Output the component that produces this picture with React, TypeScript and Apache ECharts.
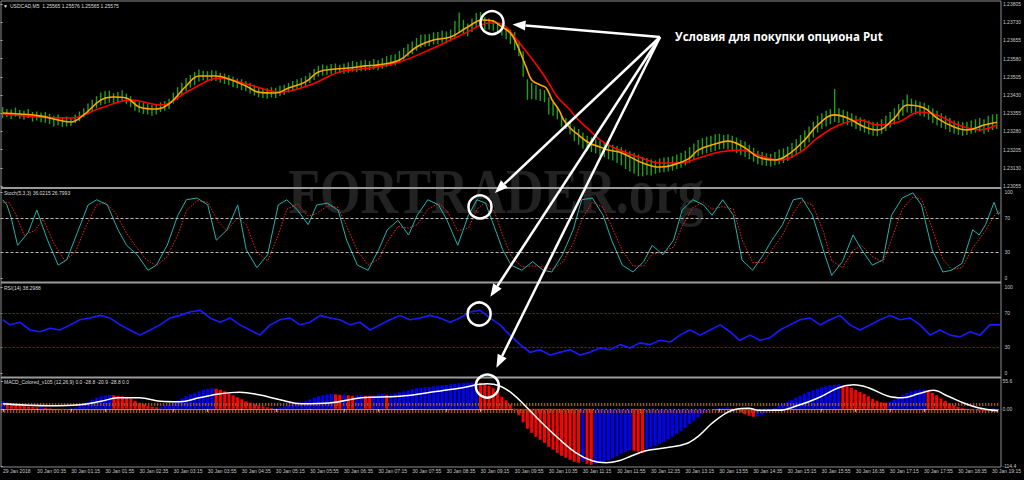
import React, { useEffect, useRef } from "react";
import * as echarts from "echarts";

// ---------- data ----------
const PRICE_BASE = 1.23; // bar values below are in points (1e-5) above this base
const PRICE_MIN = 1.23055;
const PRICE_MAX = 1.23805;
const PRICE_TICKS = [1.23055, 1.2313, 1.23205, 1.2328, 1.23355, 1.2343, 1.23505, 1.2358, 1.23655, 1.2373, 1.23805];
const OSC_TICKS = [0, 30, 70, 100];
const MACD_MIN = -114.4;
const MACD_MAX = 55.6;
const MACD_TICKS = [-114.4, 0, 55.6];
const MACD_LEVELS = [8.5, -5];
const BAR_COUNT = 234;
const TIME_LABELS = [
  "29 Jan 2018", "30 Jan 00:35", "30 Jan 01:15", "30 Jan 01:55", "30 Jan 02:35", "30 Jan 03:15",
  "30 Jan 03:55", "30 Jan 04:35", "30 Jan 05:15", "30 Jan 05:55", "30 Jan 06:35", "30 Jan 07:15",
  "30 Jan 07:55", "30 Jan 08:35", "30 Jan 09:15", "30 Jan 09:55", "30 Jan 10:35", "30 Jan 11:15",
  "30 Jan 11:55", "30 Jan 12:35", "30 Jan 13:15", "30 Jan 13:55", "30 Jan 14:35", "30 Jan 15:15",
  "30 Jan 15:55", "30 Jan 16:35", "30 Jan 17:15", "30 Jan 17:55", "30 Jan 18:35", "30 Jan 19:15",
];

const BAR_HIGH = [
  380, 372, 370, 378, 368, 365, 372, 360, 362, 358,
  360, 352, 345, 350, 338, 342, 335, 350, 362, 375,
  395, 410, 425, 440, 445, 448, 438, 442, 450, 436,
  425, 410, 400, 398, 395, 390, 392, 400, 405, 415,
  440, 462, 480, 500, 512, 525, 535, 530, 528, 532,
  530, 522, 518, 512, 505, 498, 495, 488, 480, 472,
  462, 460, 458, 462, 460, 468, 472, 480, 488, 495,
  500, 508, 522, 538, 550, 556, 552, 558, 560, 555,
  560, 565, 570, 566, 572, 575, 570, 578, 574, 582,
  590, 595, 598, 612, 625, 640, 650, 665, 678, 680,
  682, 688, 690, 696, 692, 700, 735, 770, 740, 725,
  745, 768, 772, 750, 745, 740, 728, 720, 705, 700,
  690, 650, 610, 495, 480, 470, 455, 450, 420, 400,
  380, 345, 335, 320, 300, 290, 275, 262, 255, 248,
  240, 235, 232, 225, 220, 215, 205, 198, 192, 185,
  175, 170, 165, 160, 168, 172, 175, 178, 185, 192,
  200, 215, 230, 245, 252, 258, 262, 268, 270, 265,
  268, 262, 255, 245, 238, 225, 212, 200, 195, 190,
  188, 195, 205, 210, 218, 232, 248, 265, 285, 300,
  320, 345, 355, 365, 372, 455, 375, 368, 362, 355,
  345, 338, 330, 325, 320, 318, 330, 345, 360, 375,
  392, 410, 432, 415, 408, 402, 398, 388, 375, 365,
  355, 345, 335, 325, 322, 318, 320, 325, 330, 335,
  330, 345, 350, 352,
];
const BAR_LOW = [
  335, 338, 330, 340, 332, 328, 335, 320, 325, 318,
  315, 310, 300, 305, 298, 300, 302, 315, 322, 338,
  350, 362, 375, 388, 392, 398, 395, 400, 405, 392,
  380, 365, 358, 352, 350, 345, 350, 360, 365, 372,
  395, 410, 430, 445, 460, 470, 485, 490, 485, 488,
  488, 480, 475, 470, 462, 458, 450, 445, 436, 428,
  420, 418, 415, 420, 418, 425, 430, 440, 445, 452,
  458, 465, 478, 492, 505, 510, 512, 515, 518, 520,
  518, 522, 526, 524, 528, 530, 532, 535, 532, 538,
  545, 550, 552, 565, 575, 588, 598, 612, 625, 630,
  632, 638, 640, 645, 642, 650, 665, 690, 680, 672,
  690, 705, 715, 700, 700, 695, 685, 675, 660, 640,
  615, 590, 505, 410, 412, 410, 405, 400, 350, 345,
  330, 300, 290, 268, 240, 225, 210, 200, 195, 190,
  180, 175, 165, 160, 150, 140, 125, 115, 105, 95,
  95, 100, 98, 105, 110, 112, 115, 118, 125, 130,
  140, 150, 165, 178, 185, 190, 195, 200, 205, 208,
  205, 198, 190, 182, 175, 165, 155, 145, 140, 138,
  135, 140, 145, 150, 158, 170, 185, 200, 215, 235,
  255, 275, 290, 300, 310, 318, 315, 310, 305, 300,
  290, 282, 275, 268, 262, 260, 270, 282, 295, 308,
  328, 345, 358, 355, 350, 345, 340, 328, 315, 305,
  295, 288, 278, 270, 266, 262, 265, 270, 275, 280,
  270, 278, 285, 290,
];

// [bar index, points above base]
const MA_FAST = [
  [0, 356], [4, 352], [9, 343], [13, 327], [16, 319], [19, 348], [23, 409], [26, 422], [29, 418],
  [32, 381], [36, 372], [39, 393], [43, 467], [46, 508], [50, 508], [53, 496], [57, 467], [60, 442],
  [64, 438], [67, 459], [71, 484], [74, 525], [78, 537], [81, 541], [85, 550], [88, 554], [93, 574],
  [97, 628], [101, 657], [105, 669], [109, 710], [112.4, 739], [115, 735], [116.4, 718], [119, 685],
  [120.4, 644], [122.7, 545], [124, 492], [126, 471], [127.4, 459], [128.8, 409], [130.4, 368],
  [131.5, 327], [133, 294], [135, 265], [137.5, 232], [140, 216], [142, 203], [144.5, 195], [147, 175],
  [150, 150], [154, 133], [157, 141], [161, 170], [163, 203], [167, 228], [170, 240], [174, 212],
  [177, 175], [181, 162], [184, 183], [188, 245], [191, 306], [195, 348], [198, 335], [202, 298],
  [205, 286], [209, 335], [212, 389], [216, 376], [219, 335], [223, 298], [226, 286], [230, 306],
  [233, 318],
];
const MA_SLOW = [
  [0, 352], [9, 339], [16, 335], [23, 376], [30, 409], [37, 389], [44, 451], [51, 500], [58, 471],
  [65, 442], [72, 471], [79, 525], [86, 541], [93, 566], [101, 624], [105, 657], [109, 690], [112, 718],
  [114, 727], [116, 727], [118, 710], [120, 669], [123, 603], [126, 533], [128, 479], [130, 422],
  [133, 368], [134.5, 335], [137.5, 286], [140, 245], [144.5, 203], [149, 175], [154, 150], [159, 150],
  [163, 170], [168, 195], [173, 203], [177, 183], [182, 162], [187, 195], [191, 253], [196, 306],
  [201, 327], [205, 306], [210, 319], [215, 360], [219, 348], [224, 306], [229, 286], [233, 306],
];

const STOCH_K = [
  [0, 91], [1, 85], [2, 70], [3.5, 38], [6, 53], [8, 79], [10.5, 44], [13, 15], [15, 21], [17.5, 53],
  [20, 85], [22, 91], [24.5, 85], [27, 56], [29, 38], [31.5, 27], [34, 9], [36, 15], [38.5, 38], [41, 73],
  [43, 91], [45.5, 93], [48, 85], [50, 44], [52.5, 56], [55, 85], [57, 33], [59.5, 12], [62, 27], [64.5, 85],
  [66.5, 91], [69, 79], [71.5, 62], [73.5, 85], [76, 87], [78.5, 79], [80.5, 44], [83, 15], [85.5, 9], [88, 33],
  [90, 56], [92.5, 67], [95, 50], [97, 73], [99.5, 91], [102, 85], [104, 67], [106.5, 38], [109, 73], [111, 91],
  [113, 87], [114.5, 67], [117, 33], [119, 15], [121.5, 9], [124, 19], [126.5, 9], [128.5, 7], [131, 27],
  [133.5, 56], [135.5, 91], [138, 93], [140.5, 73], [142.5, 44], [145, 15], [147.5, 7], [150, 19], [152, 38],
  [154.5, 27], [157, 44], [159, 79], [161.5, 91], [164, 85], [166, 73], [168.5, 91], [171, 73], [173, 21],
  [175.5, 9], [178, 27], [180, 44], [182.5, 62], [185, 91], [187, 93], [189.5, 73], [192, 33], [194, 3],
  [196.5, 19], [199, 50], [201, 33], [203.5, 15], [206, 21], [208, 73], [210.5, 93], [213, 99], [215, 85],
  [217.5, 33], [220, 7], [222, 9], [224.5, 17], [227, 56], [228.5, 50], [230, 62], [232, 88], [233, 74],
  [233.5, 77],
];
const STOCH_D = [
  [0, 88], [1.5, 88], [3, 75], [5, 50], [7.5, 55], [9.5, 68], [12, 40], [14.5, 20], [17, 30], [19.5, 60],
  [22, 85], [24, 88], [26.5, 75], [29, 52], [31, 38], [33.5, 22], [36, 14], [38.5, 25], [41, 50], [43, 78],
  [45.5, 90], [48, 88], [50.5, 65], [52.5, 55], [55, 70], [57, 62], [59.5, 30], [62, 20], [64.5, 50],
  [66.5, 80], [69, 86], [71.5, 72], [73.5, 75], [76, 84], [78.5, 82], [80.5, 60], [83, 32], [85.5, 15],
  [88, 22], [90, 42], [92.5, 60], [95, 58], [97, 62], [99.5, 80], [102, 87], [104, 78], [106.5, 55],
  [109, 58], [111, 80], [113, 88], [115, 78], [117, 50], [119, 25], [121.5, 13], [124, 14], [126.5, 13],
  [128.5, 10], [131, 18], [133.5, 40], [135.5, 68], [138, 88], [140.5, 82], [142.5, 60], [145, 32],
  [147.5, 14], [150, 14], [152, 28], [154.5, 30], [157, 36], [159, 60], [161.5, 82], [164, 88], [166, 80],
  [168.5, 83], [171, 80], [173, 45], [175.5, 18], [178, 18], [180, 33], [182.5, 50], [185, 75], [187, 90],
  [189.5, 85], [192, 55], [194, 20], [196.5, 12], [199, 32], [201, 38], [203.5, 25], [206, 18], [208, 45],
  [210.5, 80], [213, 94], [215, 92], [217.5, 58], [220, 22], [222, 10], [224.5, 12], [227, 35],
  [228.5, 45], [230, 55], [232, 72], [233.5, 80],
];

const RSI = [
  [0, 62], [1.7, 56], [4.1, 59], [6.4, 50], [8.7, 48], [11.1, 52], [13.4, 50], [15.8, 56], [18.1, 62],
  [20.4, 64], [22.8, 67], [25.1, 64], [27.5, 56], [29.8, 50], [32.1, 44], [34.5, 50], [36.8, 56], [39.2, 64],
  [41.5, 67], [43.8, 71], [46.2, 73], [48.5, 64], [50.9, 59], [53.2, 64], [55.5, 56], [57.9, 50], [60.2, 44],
  [62.6, 56], [64.9, 62], [67.2, 64], [69.6, 56], [71.9, 59], [74.3, 67], [76.6, 64], [78.9, 62], [81.3, 56],
  [83.6, 59], [86, 50], [88.3, 56], [90.6, 62], [93, 67], [95.3, 62], [97.7, 64], [100, 67], [102.3, 64],
  [104.7, 59], [107, 64], [109.4, 71], [111.7, 73], [114, 64], [116.4, 56], [118.7, 44], [121.1, 33],
  [123.4, 24], [125.7, 27], [128.1, 21], [130.4, 24], [132.8, 27], [135.1, 21], [137.4, 24], [139.8, 29],
  [142.1, 27], [144.5, 33], [146.8, 29], [149.1, 35], [151.5, 33], [153.8, 38], [156.2, 36], [158.5, 44],
  [160.8, 50], [163.2, 44], [165.5, 50], [167.9, 56], [170.2, 48], [172.5, 38], [174.9, 44], [177.2, 38],
  [179.6, 41], [181.9, 50], [184.2, 56], [186.6, 62], [188.9, 64], [191.3, 56], [193.6, 62], [195.9, 67],
  [198.3, 56], [200.6, 50], [203, 56], [205.3, 62], [207.6, 67], [210, 62], [212.3, 64], [214.7, 56],
  [217, 44], [219.3, 50], [221.7, 44], [224, 42], [226.4, 48], [228.7, 44], [231, 56], [233.4, 56],
];

const MACD_HIST = [
  15, 12, 10, 8, 7, 6, 5, 4, 3, 3,
  2, 1, 0, -1, -2, -1, 1, 3, 6, 10,
  14, 18, 22, 25, 27, 28, 27, 26, 25, 23,
  20, 16, 12, 9, 6, 4, 3, 4, 6, 9,
  13, 17, 21, 25, 29, 32, 35, 38, 40, 41,
  40, 38, 35, 31, 27, 23, 19, 15, 12, 9,
  7, 5, 3, 2, 2, 3, 5, 7, 9, 11,
  13, 16, 19, 22, 25, 27, 29, 30, 29, 28,
  29, 27, 26, 27, 28, 26, 25, 27, 29, 30,
  28, 29, 31, 33, 35, 37, 39, 41, 42, 43,
  44, 45, 46, 47, 48, 49, 50, 51, 52, 52.5,
  53, 53.5, 52, 50, 46, 41, 34, 24, 17, 8.5,
  -3, -13, -27, -40, -48, -56, -62, -68, -76, -82,
  -88, -94, -98, -102, -106, -108, -106, -110, -112, -111,
  -108, -106, -103, -99, -95, -90, -86, -82, -84, -86,
  -88, -80, -77, -74, -70, -66, -61, -56, -50, -44,
  -38, -31, -24, -17, -11, -6, -3, -1, 1, 2,
  3, 1, -3, -7, -11, -14, -16, -15, -12, -8,
  -3, 2, 6, 10, 14, 18, 22, 26, 30, 34,
  37, 40, 43, 45, 47, 48, 49, 47, 45, 42,
  38, 34, 30, 25, 20, 16, 13, 12, 14, 18,
  23, 28, 32, 35, 37, 38, 38.5, 36, 32, 27,
  21, 16, 11, 7, 4, 2, -1, -3, -2, -4,
  -5, -3, -2, -1,
];
const MACD_SIGNAL = [
  [0, 10], [11, 6], [18, 8], [23, 15], [27, 22], [32, 22], [37, 15], [41.5, 14], [46, 22], [51, 30],
  [55.5, 33], [60, 28], [65, 18], [70, 10], [77, 12], [84, 22], [93, 25], [102, 35], [107, 41],
  [113.6, 50], [116.4, 46], [119.4, 31], [122.7, 4], [126.5, -29], [130.4, -60], [134.4, -88],
  [138.2, -104], [141.4, -108], [144.5, -104], [147.5, -94], [150.8, -84], [155.5, -78], [160.2, -70],
  [163.2, -54], [166.3, -29], [169.5, -9], [171.9, -1], [174.9, 1], [177.2, -3], [182, -3], [186.6, 7],
  [191.3, 22], [196, 42], [199.5, 48], [203, 42], [207.7, 25], [211, 22], [214.7, 30], [218.2, 37],
  [221.7, 25], [225.2, 12], [228.7, 2], [233.4, -4],
];

// annotation anchors: [bar index, value] in each pane
const MARKS = [
  { grid: 0, bar: 114.7, value: 1.23728 },
  { grid: 1, bar: 111.7, value: 82.6 },
  { grid: 2, bar: 111.5, value: 68.6 },
  { grid: 3, bar: 113.6, value: 45.5 },
];
const NOTE_TEXT = "Условия для покупки опциона Put";

// ---------- helpers ----------
const AX = "#c8c8c8";
const FONT = "Liberation Sans";
const px = (p: number) => PRICE_BASE + p / 100000;

function makeAxisX(gridIndex: number, show: boolean) {
  const customValues = TIME_LABELS.map((_, k) => k * 8 + 0.5);
  return {
    type: "value",
    gridIndex,
    min: 0,
    max: BAR_COUNT,
    show,
    splitLine: { show: false },
    axisLine: { show, lineStyle: { color: "#8c8c8c", width: 1 } },
    axisTick: { show, customValues, length: 3, lineStyle: { color: AX } },
    axisLabel: {
      show,
      customValues,
      color: AX,
      fontSize: 5,
      fontFamily: FONT,
      align: "left",
      margin: 2,
      formatter: (v: number) => TIME_LABELS[Math.round((v - 0.5) / 8)] ?? "",
    },
  };
}

function makeAxisY(gridIndex: number, min: number, max: number, ticks: number[], fmt: (v: number) => string) {
  return {
    type: "value",
    gridIndex,
    position: "right",
    min,
    max,
    splitLine: { show: false },
    axisLine: { show: false },
    axisTick: { show: true, customValues: ticks, length: 2, lineStyle: { color: AX } },
    axisLabel: {
      customValues: ticks,
      color: AX,
      fontSize: 5,
      fontFamily: FONT,
      margin: 4,
      formatter: fmt,
    },
  };
}

function arrowShapes(ox: number, oy: number, cx: number, cy: number, r: number, gap: number) {
  const dx = ox - cx;
  const dy = oy - cy;
  const L = Math.hypot(dx, dy);
  const ux = dx / L;
  const uy = dy / L;
  const tx = cx + ux * (r + gap);
  const ty = cy + uy * (r + gap);
  const hl = 13;
  const hw = 5;
  const bx = tx + ux * hl;
  const by = ty + uy * hl;
  const nx = -uy;
  const ny = ux;
  return [
    { type: "line", z: 100, shape: { x1: ox, y1: oy, x2: bx, y2: by }, style: { stroke: "#ffffff", lineWidth: 2.5 } },
    {
      type: "polygon",
      z: 100,
      shape: { points: [[tx, ty], [bx + nx * hw, by + ny * hw], [bx - nx * hw, by - ny * hw]] },
      style: { fill: "#ffffff" },
    },
  ];
}

export default function App() {
  const ref = useRef<HTMLDivElement>(null);

  useEffect(() => {
    if (!ref.current) return;
    const chart = echarts.init(ref.current, null, { renderer: "svg" });

    const bars = BAR_HIGH.map((h, i) => [i + 0.5, px(BAR_LOW[i]), px(h)]);
    const hist = MACD_HIST.map((v, i) => ({
      value: [i + 0.5, v],
      itemStyle: { color: i > 0 && v < MACD_HIST[i - 1] ? "#ff0000" : "#0000ff" },
    }));

    const option: any = {
      animation: false,
      backgroundColor: "#000000",
      textStyle: { fontFamily: FONT },
      grid: [
        { left: 0.5, width: 1000, top: 4, height: 182 },
        { left: 0.5, width: 1000, top: 192, height: 86 },
        { left: 0.5, width: 1000, top: 287, height: 86 },
        { left: 0.5, width: 1000, top: 381, height: 85 },
      ],
      xAxis: [makeAxisX(0, false), makeAxisX(1, false), makeAxisX(2, false), makeAxisX(3, true)],
      yAxis: [
        makeAxisY(0, PRICE_MIN, PRICE_MAX, PRICE_TICKS, (v) => v.toFixed(5)),
        makeAxisY(1, 0, 100, OSC_TICKS, (v) => String(Math.round(v))),
        makeAxisY(2, 0, 100, OSC_TICKS, (v) => String(Math.round(v))),
        makeAxisY(3, MACD_MIN, MACD_MAX, MACD_TICKS, (v) => (Math.abs(v) < 1e-9 ? "0.00" : v.toFixed(1))),
      ],
      series: [
        {
          type: "custom",
          name: "USDCAD",
          xAxisIndex: 0,
          yAxisIndex: 0,
          data: bars,
          encode: { x: 0, y: [1, 2] },
          renderItem: (_params: any, api: any) => {
            const x = api.value(0);
            const lo = api.coord([x, api.value(1)]);
            const hi = api.coord([x, api.value(2)]);
            return {
              type: "line",
              shape: { x1: lo[0], y1: lo[1], x2: hi[0], y2: hi[1] },
              style: { stroke: "#1ea01e", lineWidth: 1.4 },
            };
          },
          z: 2,
        },
        {
          type: "line",
          xAxisIndex: 0,
          yAxisIndex: 0,
          data: MA_SLOW.map(([i, p]) => [i + 0.5, px(p)]),
          smooth: 0.4,
          showSymbol: false,
          lineStyle: { color: "#ff0000", width: 1.6 },
          z: 3,
        },
        {
          type: "line",
          xAxisIndex: 0,
          yAxisIndex: 0,
          data: MA_FAST.map(([i, p]) => [i + 0.5, px(p)]),
          smooth: 0.4,
          showSymbol: false,
          lineStyle: { color: "#ffa500", width: 1.6 },
          z: 4,
        },
        {
          type: "line",
          xAxisIndex: 1,
          yAxisIndex: 1,
          data: STOCH_D.map(([i, v]) => [i + 0.5, v]),
          showSymbol: false,
          lineStyle: { color: "#ff2020", width: 1, type: [1.5, 1.5] },
          markLine: {
            silent: true,
            symbol: "none",
            label: { show: false },
            lineStyle: { color: "#bdbdbd", width: 1, type: [3, 2] },
            data: [{ yAxis: 70 }, { yAxis: 30 }],
          },
          z: 3,
        },
        {
          type: "line",
          xAxisIndex: 1,
          yAxisIndex: 1,
          data: STOCH_K.map(([i, v]) => [i + 0.5, v]),
          showSymbol: false,
          lineStyle: { color: "#20b2aa", width: 1 },
          z: 4,
        },
        {
          type: "line",
          xAxisIndex: 2,
          yAxisIndex: 2,
          data: RSI.map(([i, v]) => [i + 0.5, v]),
          showSymbol: false,
          lineStyle: { color: "#1a1aff", width: 1.6 },
          markLine: {
            silent: true,
            symbol: "none",
            label: { show: false },
            lineStyle: { color: "#b01010", width: 1, type: [2, 2] },
            data: [{ yAxis: 70 }, { yAxis: 30 }],
          },
          z: 3,
        },
        {
          type: "bar",
          xAxisIndex: 3,
          yAxisIndex: 3,
          data: hist,
          barWidth: 3,
          markLine: {
            silent: true,
            symbol: "none",
            label: { show: false },
            lineStyle: { color: "#9a5020", width: 3, type: [1.5, 1.5] },
            data: MACD_LEVELS.map((v) => ({ yAxis: v })),
          },
          z: 2,
        },
        {
          type: "line",
          xAxisIndex: 3,
          yAxisIndex: 3,
          data: MACD_SIGNAL.map(([i, v]) => [i + 0.5, v]),
          smooth: 0.4,
          showSymbol: false,
          lineStyle: { color: "#ffffff", width: 1.5 },
          z: 5,
        },
      ],
    };

    chart.setOption(option);

    const ox = 660;
    const oy = 37;
    const r = 11.5;
    const graphics: any[] = [
      {
        type: "text",
        z: -10,
        x: 496,
        y: 240,
        originX: 496,
        originY: 240,
        scaleY: 1.2,
        style: {
          text: "FORTRADER.org",
          fill: "#222222",
          fontSize: 52,
          fontFamily: "Liberation Serif",
          fontWeight: "bold",
          align: "center",
          verticalAlign: "middle",
        },
      },
      { type: "rect", z: 50, shape: { x: 1, y: 1, width: 1000, height: 466 }, style: { fill: "none", stroke: "#8c8c8c", lineWidth: 1 } },
      { type: "line", z: 50, shape: { x1: 1, y1: 188, x2: 1001, y2: 188 }, style: { stroke: "#9a9a9a", lineWidth: 2 } },
      { type: "line", z: 50, shape: { x1: 1, y1: 282.5, x2: 1001, y2: 282.5 }, style: { stroke: "#9a9a9a", lineWidth: 2 } },
      { type: "line", z: 50, shape: { x1: 1, y1: 377.5, x2: 1001, y2: 377.5 }, style: { stroke: "#9a9a9a", lineWidth: 2 } },
      { type: "text", z: 50, x: 3, y: 6, style: { text: "▼", fill: "#dddddd", fontSize: 5, verticalAlign: "middle" } },
      { type: "text", z: 50, x: 10, y: 6, style: { text: "USDCAD,M5  1.25565 1.25576 1.25565 1.25575", fill: "#dddddd", fontSize: 5, fontFamily: FONT, verticalAlign: "middle" } },
      { type: "text", z: 50, x: 4, y: 193, style: { text: "Stoch(5,3,3) 36.0215 26.7993", fill: "#dddddd", fontSize: 5, fontFamily: FONT, verticalAlign: "middle" } },
      { type: "text", z: 50, x: 4, y: 288, style: { text: "RSI(14) 38.2988", fill: "#dddddd", fontSize: 5, fontFamily: FONT, verticalAlign: "middle" } },
      { type: "text", z: 50, x: 4, y: 382, style: { text: "MACD_Colored_v105 (12,26,9) 0.0 -28.8 -20.9 -28.8 0.0", fill: "#dddddd", fontSize: 5, fontFamily: FONT, verticalAlign: "middle" } },
      {
        type: "text",
        z: 100,
        x: 675,
        y: 36,
        style: { text: NOTE_TEXT, fill: "#ffffff", fontSize: 11.5, fontWeight: "bold", fontFamily: "Open Sans", verticalAlign: "middle" },
      },
    ];
    MARKS.forEach((m) => {
      const p = chart.convertToPixel({ gridIndex: m.grid }, [m.bar + 0.5, m.value]) as number[];
      if (!p) return;
      graphics.push({
        type: "circle",
        z: 100,
        shape: { cx: p[0], cy: p[1], r },
        style: { fill: "none", stroke: "#ffffff", lineWidth: 2.5 },
      });
      graphics.push(...arrowShapes(ox, oy, p[0], p[1], r, 9));
    });
    chart.setOption({ graphic: graphics });

    return () => chart.dispose();
  }, []);

  return (
    <div
      ref={ref}
      style={{ position: "fixed", left: 0, top: 0, width: 1024, height: 480, background: "#000" }}
    />
  );
}
